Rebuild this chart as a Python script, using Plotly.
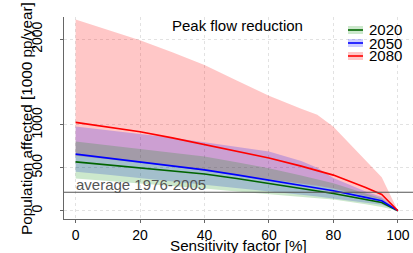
import plotly.graph_objects as go

# ---------------- data ----------------
sensitivity = [0, 10, 20, 30, 40, 50, 60, 70, 75, 80, 90, 95, 100]

g2020_mean  = [570, 535, 500, 465, 429, 375, 319, 260, 230, 200, 130, 95, 0]
g2020_upper = [806, 763, 721, 677, 633, 565, 496, 410, 365, 319, 200, 142, 0]
g2020_lower = [375, 348, 320, 290, 260, 225, 192, 160, 145, 130, 75, 43, 0]

b2050_mean  = [660, 615, 570, 523, 476, 418, 358, 295, 263, 232, 155, 115, 0]
b2050_upper = [983, 940, 900, 850, 800, 745, 690, 580, 500, 380, 225, 160, 0]
b2050_lower = [455, 420, 385, 345, 305, 265, 225, 185, 165, 145, 95, 70, 0]

r2080_mean  = [1030, 975, 922, 850, 772, 695, 615, 520, 470, 415, 270, 190, 0]
r2080_upper = [2230, 2110, 1990, 1850, 1700, 1520, 1340, 1190, 1120, 980, 590, 390, 0]
r2080_lower = [640, 600, 560, 515, 470, 420, 370, 315, 290, 260, 170, 130, 0]

series_names = ["2020", "2050", "2080"]
average_1976_2005 = 215
x_ticks = [0, 20, 40, 60, 80, 100]
y_ticks = [0, 500, 1000, 2000]

# ---------------- styles ----------------
line_colors = ["#006400", "#0000ff", "#ff0000"]
fill_colors = ["rgba(0,140,0,0.2)", "rgba(0,0,255,0.2)", "rgba(255,0,0,0.22)"]
FONT = "Liberation Sans, Arial, sans-serif"

W, H = 413, 253
L, R, T, B = 64, 0, 17, 34

def px_x(p):
    return (p - L) / (W - L - R)

def px_y(p):
    return (H - B - p) / (H - T - B)

fig = go.Figure()

bands = [(r2080_upper, r2080_lower, 2), (b2050_upper, b2050_lower, 1), (g2020_upper, g2020_lower, 0)]
for up, lo, i in bands:
    fig.add_trace(go.Scatter(
        x=sensitivity + sensitivity[::-1],
        y=up + lo[::-1],
        fill="toself", fillcolor=fill_colors[i],
        line=dict(width=0), mode="lines", hoverinfo="skip", showlegend=False))

for means, i in [(g2020_mean, 0), (b2050_mean, 1), (r2080_mean, 2)]:
    fig.add_trace(go.Scatter(
        x=sensitivity, y=means, mode="lines",
        line=dict(color=line_colors[i], width=1.6),
        name=series_names[i], showlegend=False))

# average line
fig.add_shape(type="line", xref="paper", x0=0, x1=1, yref="y",
              y0=average_1976_2005, y1=average_1976_2005,
              line=dict(color="#555555", width=1.2))
fig.add_annotation(x=-0.4, y=average_1976_2005, xref="x", yref="y",
                   text="average 1976-2005", showarrow=False,
                   xanchor="left", yanchor="bottom", yshift=-3,
                   font=dict(family=FONT, size=15, color="#555555"))

# title
fig.add_annotation(x=px_x(237.5), y=px_y(25), xref="paper", yref="paper",
                   text="Peak flow reduction", showarrow=False,
                   xanchor="center", yanchor="middle",
                   font=dict(family=FONT, size=15, color="black"))

# y-axis title
fig.add_annotation(x=px_x(26), y=px_y(119), xref="paper", yref="paper",
                   text="Population affected [1000 pp/year]", showarrow=False,
                   textangle=-90, xanchor="center", yanchor="middle",
                   font=dict(family=FONT, size=15.3, color="black"))

# x-axis title
fig.add_annotation(x=px_x(238), y=px_y(245), xref="paper", yref="paper",
                   text="Sensitivity factor [%]", showarrow=False,
                   xanchor="center", yanchor="middle",
                   font=dict(family=FONT, size=15.2, color="black"))

# manual legend
legend_y = [30, 43, 56]
for i, name in enumerate(series_names):
    yy = legend_y[i]
    fig.add_shape(type="rect", xref="paper", yref="paper",
                  x0=px_x(348), x1=px_x(363), y0=px_y(yy + 4), y1=px_y(yy - 4),
                  fillcolor=fill_colors[i], line=dict(width=0))
    fig.add_shape(type="line", xref="paper", yref="paper",
                  x0=px_x(348), x1=px_x(363), y0=px_y(yy), y1=px_y(yy),
                  line=dict(color=line_colors[i], width=1.6))
    fig.add_annotation(x=px_x(367), y=px_y(yy), xref="paper", yref="paper",
                       text=name, showarrow=False, xanchor="left", yanchor="middle",
                       font=dict(family=FONT, size=15, color="black"))

fig.update_layout(
    width=W, height=H,
    margin=dict(l=L, r=R, t=T, b=B, pad=0),
    paper_bgcolor="white", plot_bgcolor="white",
    font=dict(family=FONT, size=14, color="black"),
    showlegend=False,
    xaxis=dict(range=[-3.6, 104.7], tickvals=x_ticks, showgrid=True,
               gridcolor="#e2e2e2", griddash="dot", gridwidth=1,
               zeroline=False, showline=True, linecolor="#666666", linewidth=1,
               ticks="outside", ticklen=3, tickcolor="#666666",
               ticklabeloverflow="allow",
               tickfont=dict(size=14)),
    yaxis=dict(range=[-97, 2260], tickvals=y_ticks, showgrid=True,
               gridcolor="#e2e2e2", griddash="dot", gridwidth=1,
               zeroline=False, showline=True, linecolor="#666666", linewidth=1,
               ticks="outside", ticklen=3, tickcolor="#666666", tickangle=-90,
               ticklabelstandoff=12, ticklabeloverflow="allow",
               tickfont=dict(size=14)),
)

fig.write_html("out.html", config={"displayModeBar": False},
               post_script="document.body.style.margin='0';document.body.style.overflow='hidden';")
